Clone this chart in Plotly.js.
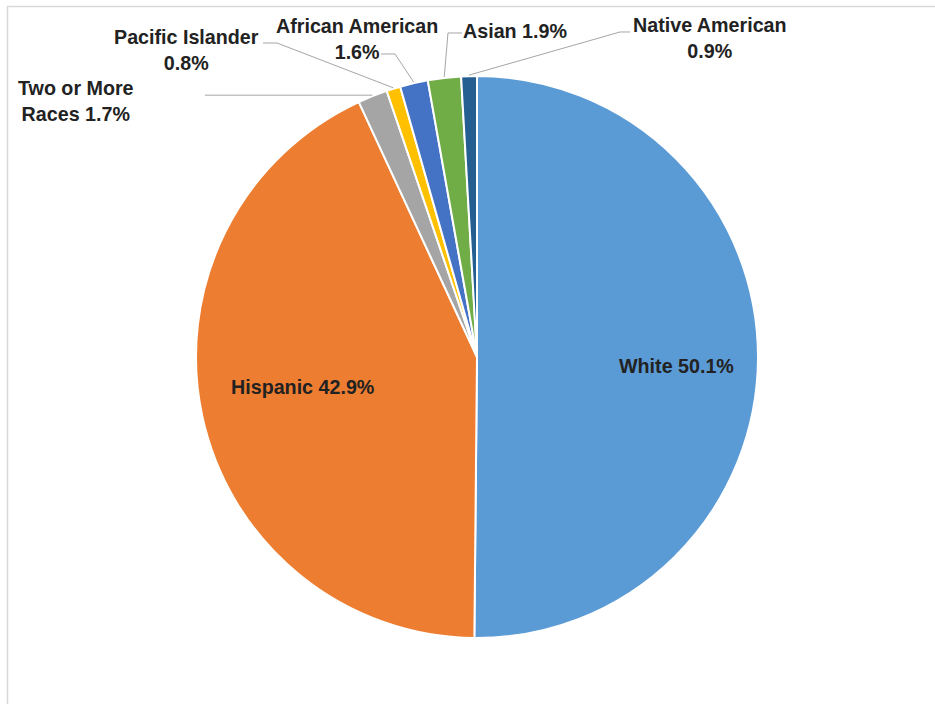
<!DOCTYPE html>
<html>
<head>
<meta charset="utf-8">
<script src="https://cdn.plot.ly/plotly-3.0.1.min.js"></script>
<style>html,body{margin:0;padding:0;background:#fff;}#chart{width:935px;height:704px;}</style>
</head>
<body>
<div id="chart"></div>
<script>
// ---- data ----
const categories = ['White','Hispanic','Two or More Races','Pacific Islander','African American','Asian','Native American'];
const values = [50.1, 42.9, 1.7, 0.8, 1.6, 1.9, 0.9];
const labelNames = ['White','Hispanic','Two or More<br>Races','Pacific Islander<br>','African American<br>','Asian','Native American<br>'];
const colors = ['#5B9BD5','#ED7D31','#A5A5A5','#FFC000','#4472C4','#70AD47','#255E91'];

// ---- layout constants (pixels) ----
const W = 935, H = 704;
const CX = 477, CY = 357, R = 281;
const labelPos = [[676,366],[302,387],[76,101],[186,50],[357,39],[515,31],[710,38]];
// leader-line elbow points (null = label inside)
const leaderPts = [null, null, [[205,null]], [[263,43],[277,43]], [[381,54],[395,54]], [[462,33],[448,33]], [[630,32],[620,32]]];

const px = x => x / W;
const py = y => 1 - y / H;

const total = values.reduce((a,b)=>a+b,0);
let cum = 0;
const mids = values.map(v => { const m = (cum + v/2) / total; cum += v; return m; });

const texts = values.map((v,i) => labelNames[i] + (labelNames[i].endsWith('<br>') ? '' : ' ') + v.toFixed(1) + '%');

const font = {family: 'Liberation Sans, Arial, sans-serif', size: 19.7, color: '#222222'};
const annotations = texts.map((t,i) => ({
  xref:'paper', yref:'paper', x: px(labelPos[i][0]), y: py(labelPos[i][1]),
  xanchor:'center', yanchor:'middle', text: '<b>' + t.replace('<br>', '</b><br><b>') + '</b>',
  showarrow:false, font: font, align:'center'
}));

const shapes = [{
  type:'rect', xref:'paper', yref:'paper',
  x0: px(7.5), x1: 1.05, y0: -0.05, y1: py(6.5),
  line:{color:'#d9d9d9', width:1.5}, fillcolor:'rgba(0,0,0,0)', layer:'below'
}];
leaderPts.forEach((pts,i) => {
  if (!pts) return;
  const a = mids[i] * 2 * Math.PI;
  const ex = CX + (R + 1) * Math.sin(a);
  const ey = CY - (R + 1) * Math.cos(a);
  const p = pts.map(q => [q[0], q[1] === null ? ey : q[1]]);
  p.push([ex, ey]);
  const path = p.map((q,k) => (k ? 'L' : 'M') + px(q[0]).toFixed(5) + ',' + py(q[1]).toFixed(5)).join(' ');
  shapes.push({type:'path', xref:'paper', yref:'paper', path: path, line:{color:'#a6a6a6', width:1}});
});

const trace = {
  type:'pie', labels: categories, values: values, sort:false, direction:'clockwise', rotation:0,
  marker:{colors: colors, line:{color:'#ffffff', width:2}},
  textinfo:'none', hoverinfo:'label+percent',
  domain:{x:[px(CX - R), px(CX + R)], y:[py(CY + R), py(CY - R)]}
};

const layout = {
  width: W, height: H, margin:{l:0,r:0,t:0,b:0},
  paper_bgcolor:'#ffffff', plot_bgcolor:'#ffffff', showlegend:false,
  annotations: annotations, shapes: shapes
};
Plotly.newPlot('chart', [trace], layout, {displayModeBar:false, staticPlot:true});
</script>
</body>
</html>
